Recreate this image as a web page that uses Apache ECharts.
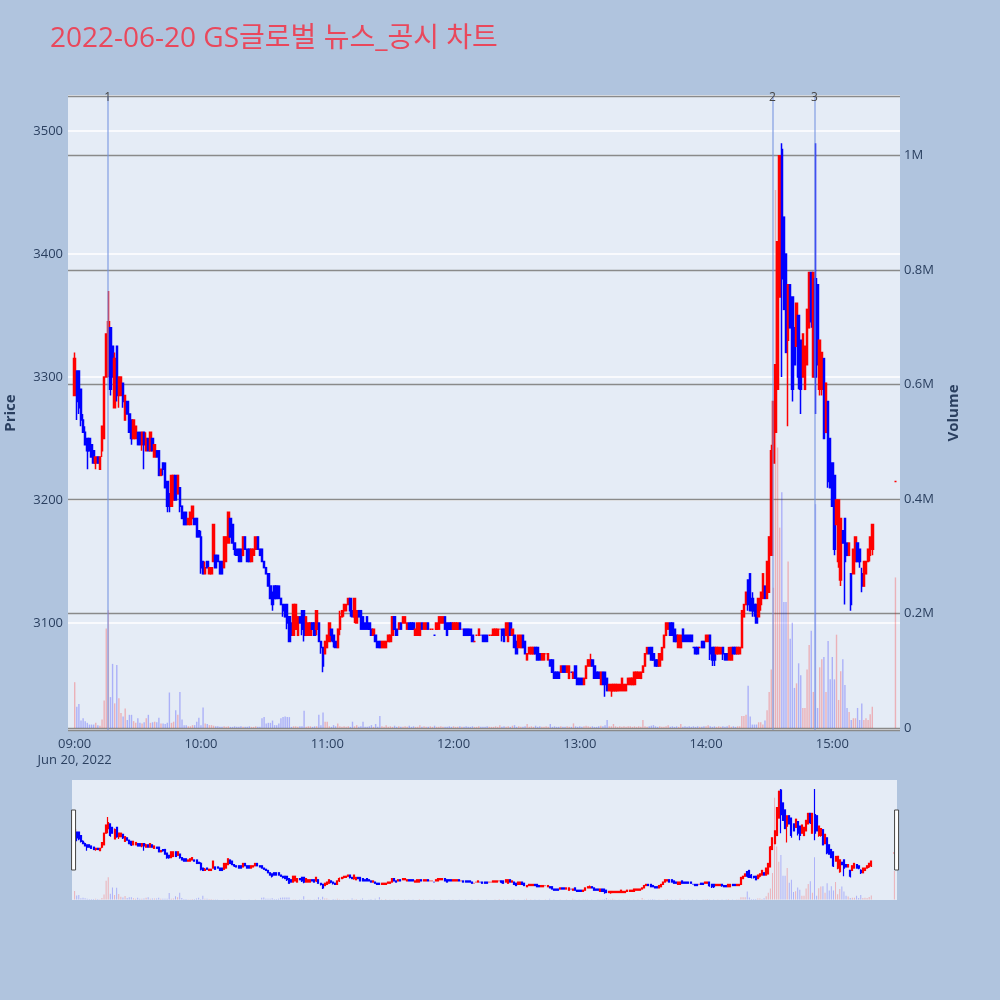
<!DOCTYPE html>
<html><head><meta charset="utf-8">
<script src="https://cdn.jsdelivr.net/npm/echarts/dist/echarts.min.js"></script>
<style>html,body{margin:0;padding:0;background:#b0c4de;}#chart{width:1000px;height:1000px;}</style>
</head><body><div id="chart"></div>
<script>
// ---------- data (open, close, low, high) per minute, by hour ----------
const sessionDay = [2022, 5, 20];
const c0900 = [
[3285,3315,3285,3320],[3305,3280,3265,3305],[3305,3275,3270,3305],[3290,3265,3260,3290],[3265,3255,3255,3270],
[3255,3245,3245,3260],[3250,3240,3225,3250],[3250,3240,3240,3250],[3245,3235,3235,3245],[3240,3230,3230,3240],
[3230,3235,3225,3235],[3235,3230,3230,3235],[3225,3235,3225,3235],[3240,3260,3235,3260],[3250,3300,3250,3300],
[3300,3335,3300,3335],[3320,3345,3300,3370],[3340,3290,3285,3340],[3325,3300,3300,3325],[3275,3315,3275,3320],
[3325,3285,3280,3325],[3285,3300,3275,3300],[3285,3300,3285,3300],[3295,3280,3275,3295],[3265,3285,3265,3285],
[3280,3270,3270,3280],[3270,3255,3255,3270],[3265,3250,3245,3265],[3250,3265,3250,3265],[3250,3260,3250,3260],
[3255,3245,3245,3255],[3255,3245,3245,3255],[3245,3255,3240,3255],[3255,3245,3225,3255],[3240,3250,3240,3255],
[3250,3240,3240,3250],[3240,3255,3240,3255],[3250,3240,3240,3250],[3235,3245,3235,3245],[3240,3235,3235,3240],
[3240,3220,3220,3240],[3220,3225,3220,3225],[3230,3225,3220,3230],[3230,3210,3210,3230],[3215,3195,3190,3215],
[3205,3195,3190,3205],[3195,3220,3195,3220],[3200,3220,3200,3220],[3220,3200,3200,3220],[3205,3220,3205,3220],
[3210,3195,3190,3210],[3195,3185,3185,3195],[3190,3180,3180,3190],[3190,3180,3180,3190],[3180,3185,3180,3185],
[3180,3190,3180,3190],[3185,3195,3185,3195],[3185,3180,3180,3185],[3185,3170,3170,3185],[3175,3170,3170,3175]
];
const c1000 = [
[3170,3145,3140,3175],[3150,3140,3140,3150],[3140,3145,3140,3150],[3150,3145,3145,3150],[3140,3145,3140,3145],
[3140,3145,3140,3145],[3150,3180,3150,3180],[3155,3145,3145,3155],[3155,3150,3150,3155],[3150,3140,3140,3150],
[3150,3140,3140,3150],[3145,3170,3145,3170],[3150,3170,3150,3170],[3165,3190,3165,3190],[3185,3170,3170,3185],
[3180,3165,3165,3180],[3165,3160,3155,3165],[3160,3155,3155,3160],[3160,3150,3150,3160],[3160,3150,3150,3160],
[3155,3170,3155,3170],[3170,3160,3160,3170],[3160,3150,3150,3160],[3160,3150,3150,3160],[3150,3160,3150,3160],
[3155,3160,3155,3160],[3160,3170,3160,3170],[3170,3160,3160,3170],[3160,3155,3155,3160],[3160,3150,3150,3160],
[3150,3145,3145,3150],[3145,3140,3140,3145],[3140,3130,3130,3140],[3130,3120,3120,3130],[3125,3115,3110,3125],
[3130,3120,3120,3130],[3130,3120,3120,3130],[3130,3120,3120,3130],[3120,3115,3115,3120],[3115,3110,3105,3115],
[3115,3105,3105,3115],[3115,3100,3095,3115],[3105,3085,3085,3105],[3100,3090,3090,3100],[3090,3115,3090,3115],
[3095,3115,3095,3115],[3090,3105,3090,3105],[3105,3100,3100,3105],[3110,3095,3090,3110],[3110,3090,3085,3110],
[3090,3105,3090,3105],[3090,3100,3090,3100],[3090,3100,3090,3100],[3100,3095,3095,3100],[3100,3090,3090,3100],
[3095,3110,3090,3110],[3100,3085,3085,3100],[3085,3080,3075,3085],[3080,3065,3060,3080],[3075,3085,3075,3085]
];
const c1100 = [
[3080,3090,3080,3090],[3085,3100,3085,3100],[3095,3090,3085,3095],[3090,3085,3080,3090],[3085,3080,3080,3085],
[3080,3095,3080,3095],[3095,3105,3090,3110],[3105,3110,3105,3110],[3110,3115,3105,3115],[3110,3115,3110,3115],
[3115,3120,3115,3120],[3120,3110,3105,3120],[3110,3105,3105,3110],[3105,3120,3100,3120],[3100,3110,3100,3110],
[3110,3105,3105,3110],[3110,3095,3095,3110],[3105,3095,3095,3105],[3100,3095,3095,3100],[3105,3095,3095,3105],
[3100,3095,3095,3100],[3095,3090,3090,3095],[3090,3095,3090,3095],[3090,3085,3085,3090],[3085,3080,3080,3085],
[3085,3080,3080,3085],[3080,3085,3080,3085],[3080,3085,3080,3085],[3080,3085,3080,3085],[3085,3090,3085,3090],
[3085,3090,3085,3090],[3090,3105,3090,3105],[3105,3095,3095,3105],[3095,3090,3090,3095],[3095,3100,3095,3100],
[3100,3095,3095,3100],[3100,3105,3100,3105],[3100,3105,3100,3105],[3095,3100,3095,3100],[3100,3095,3095,3100],
[3100,3095,3095,3100],[3100,3095,3095,3100],[3090,3095,3090,3095],[3090,3100,3090,3100],[3090,3100,3090,3100],
[3100,3095,3095,3100],[3095,3100,3095,3100],[3095,3100,3095,3100],[3100,3095,3095,3100],[3095,3095,3095,3095],
[3095,3095,3095,3095],[3090,3090,3090,3090],[3095,3100,3095,3100],[3095,3105,3095,3105],[3100,3105,3100,3105],
[3100,3105,3100,3105],[3105,3095,3095,3105],[3100,3090,3090,3100],[3100,3095,3095,3100],[3100,3095,3095,3100]
];
const c1200 = [
[3095,3100,3095,3100],[3095,3100,3095,3100],[3095,3100,3095,3100],[3100,3095,3095,3100],[3095,3095,3095,3095],
[3095,3090,3090,3095],[3095,3090,3090,3095],[3095,3090,3090,3095],[3095,3090,3090,3095],[3090,3085,3085,3090],
[3085,3085,3085,3085],[3090,3090,3090,3090],[3090,3095,3090,3095],[3090,3090,3090,3090],[3090,3085,3085,3090],
[3090,3085,3085,3090],[3090,3085,3085,3090],[3090,3090,3090,3090],[3090,3090,3090,3090],[3090,3095,3090,3095],
[3090,3095,3090,3095],[3090,3095,3090,3095],[3095,3095,3095,3095],[3095,3090,3085,3095],[3095,3085,3085,3095],
[3090,3100,3090,3100],[3085,3100,3085,3100],[3100,3090,3090,3100],[3090,3095,3090,3095],[3090,3080,3080,3090],
[3085,3075,3075,3085],[3080,3090,3080,3090],[3080,3090,3080,3090],[3090,3080,3080,3090],[3085,3075,3075,3085],
[3070,3075,3070,3075],[3075,3080,3075,3080],[3075,3080,3075,3080],[3075,3080,3075,3080],[3080,3075,3075,3080],
[3080,3070,3070,3080],[3075,3070,3070,3075],[3070,3075,3070,3075],[3070,3075,3070,3075],[3075,3075,3075,3075],
[3070,3075,3070,3075],[3070,3065,3065,3070],[3070,3060,3060,3070],[3060,3055,3055,3060],[3060,3055,3055,3060],
[3060,3055,3055,3060],[3060,3065,3060,3065],[3065,3060,3060,3065],[3065,3060,3060,3065],[3060,3065,3060,3065],
[3055,3065,3055,3065],[3060,3060,3060,3060],[3055,3060,3055,3060],[3065,3055,3055,3065],[3055,3050,3050,3055]
];
const c1300 = [
[3055,3050,3050,3055],[3055,3050,3050,3055],[3050,3055,3050,3055],[3055,3065,3055,3065],[3065,3070,3065,3070],
[3065,3070,3065,3075],[3070,3065,3065,3070],[3065,3055,3055,3065],[3060,3055,3055,3060],[3060,3055,3055,3060],
[3050,3060,3050,3060],[3060,3050,3050,3060],[3060,3050,3040,3060],[3055,3045,3045,3055],[3045,3050,3045,3050],
[3045,3050,3040,3050],[3045,3050,3045,3050],[3045,3050,3045,3050],[3045,3050,3045,3050],[3045,3050,3045,3050],
[3045,3055,3045,3055],[3045,3050,3045,3050],[3045,3050,3045,3050],[3050,3055,3050,3055],[3050,3055,3050,3055],
[3050,3055,3050,3055],[3050,3060,3050,3060],[3055,3060,3055,3060],[3055,3060,3055,3060],[3055,3060,3055,3060],
[3060,3065,3060,3065],[3065,3075,3065,3075],[3075,3080,3075,3080],[3080,3075,3075,3080],[3080,3070,3070,3080],
[3075,3070,3070,3075],[3070,3065,3065,3070],[3070,3065,3065,3070],[3065,3075,3065,3075],[3070,3080,3070,3080],
[3080,3090,3080,3090],[3090,3100,3090,3100],[3095,3100,3095,3100],[3100,3090,3090,3100],[3100,3090,3090,3100],
[3095,3085,3085,3095],[3090,3085,3085,3090],[3080,3090,3080,3090],[3080,3090,3080,3090],[3095,3085,3085,3095],
[3090,3085,3085,3090],[3090,3085,3085,3090],[3090,3085,3085,3090],[3090,3085,3085,3090],[3080,3080,3080,3080],
[3080,3075,3075,3080],[3080,3075,3075,3080],[3080,3080,3080,3080],[3085,3080,3080,3085],[3085,3080,3080,3085]
];
const c1400 = [
[3085,3090,3085,3090],[3085,3090,3085,3090],[3090,3075,3070,3090],[3080,3070,3065,3080],[3080,3070,3065,3080],
[3075,3080,3075,3080],[3075,3080,3075,3080],[3075,3080,3075,3080],[3080,3075,3070,3080],[3075,3070,3070,3075],
[3075,3070,3070,3075],[3070,3080,3070,3080],[3070,3080,3070,3080],[3080,3075,3075,3080],[3080,3075,3075,3080],
[3075,3080,3075,3080],[3075,3080,3075,3080],[3080,3110,3080,3110],[3105,3115,3105,3115],[3115,3125,3115,3125],
[3135,3115,3110,3135],[3140,3110,3110,3140],[3120,3110,3105,3125],[3115,3110,3105,3115],[3115,3100,3100,3115],
[3105,3120,3105,3120],[3115,3125,3110,3125],[3120,3140,3120,3140],[3130,3120,3120,3130],[3120,3150,3120,3150],
[3125,3170,3125,3170],[3155,3240,3155,3245],[3230,3280,3230,3280],[3255,3310,3255,3310],[3290,3410,3290,3410],
[3365,3480,3365,3480],[3485,3380,3300,3490],[3430,3355,3355,3430],[3400,3320,3320,3400],[3330,3375,3260,3375],
[3375,3340,3340,3375],[3365,3290,3280,3365],[3340,3310,3310,3340],[3325,3360,3325,3360],[3350,3300,3290,3350],
[3330,3290,3270,3330],[3300,3335,3300,3335],[3290,3325,3290,3325],[3310,3355,3310,3355],[3340,3385,3340,3385],
[3385,3345,3340,3385],[3300,3385,3300,3385],[3380,3300,3270,3490],[3375,3310,3310,3375],[3290,3330,3285,3330],
[3290,3320,3285,3320],[3315,3250,3250,3315],[3255,3295,3255,3295],[3280,3215,3210,3280],[3250,3210,3210,3250]
];
const c1500 = [
[3230,3195,3195,3230],[3220,3160,3155,3220],[3180,3200,3180,3200],[3150,3200,3145,3200],[3135,3185,3130,3185],
[3175,3165,3165,3175],[3185,3150,3115,3185],[3165,3155,3155,3165],[3155,3165,3155,3165],[3140,3115,3110,3140],
[3140,3160,3140,3160],[3150,3170,3150,3170],[3165,3150,3150,3165],[3160,3150,3145,3160],[3140,3130,3125,3145],
[3130,3150,3130,3150],[3140,3150,3140,3150],[3150,3160,3150,3160],[3155,3170,3150,3170],[3160,3180,3155,3180]
];
// volume per minute
const v0900 = [80000,37000,42000,13000,17000,12000,9000,6000,6000,6000, 9000,5000,4000,15000,48000,174000,206000,54000,112000,43000,
 110000,52000,26000,20000,34000,14000,23000,23000,12000,9000, 17000,9000,8000,10000,17000,23000,9000,10000,11000,10000,
 18000,8000,8000,7000,9000,62000,9000,11000,31000,23000, 63000,15000,5000,5000,3000,3000,5000,5000,11000,18000];
const v1000 = [5000,36000,8000,7000,5000,5000,4000,3000,3000,2000, 2000,3000,2000,3000,2000,2000,3000,2000,2000,3000,
 2000,2000,2000,3000,2000,2000,3000,2000,2000,17000, 19000,8000,9000,9000,13000,5000,5000,8000,17000,19000,
 20000,19000,19000,2000,3000,3000,2000,3000,3000,30000, 2000,3000,3000,2000,3000,3000,23000,5000,27000,11000];
const v1100 = [11000,3000,2000,5000,3000,8000,3000,2000,3000,2000, 3000,2000,11000,3000,5000,2000,3000,11000,2000,2000,
 3000,5000,2000,7000,2000,21000,3000,2000,5000,2000, 3000,2000,4000,2000,3000,2000,2000,3000,2000,4000,
 2000,3000,2000,2000,5000,2000,3000,2000,2000,3000, 2000,4000,2000,2000,3000,2000,2000,2000,3000,2000];
const v1200 = [3000,2000,2000,3000,2000,2000,3000,2000,2000,3000, 2000,2000,3000,2000,2000,2000,3000,2000,2000,2000,
 3000,2000,5000,2000,3000,2000,3000,2000,4000,5000, 2000,3000,2000,2000,3000,7000,2000,3000,2000,4000,
 2000,3000,2000,2000,3000,2000,7000,2000,3000,2000, 2000,3000,2000,2000,3000,2000,2000,8000,3000,2000];
const v1300 = [3000,2000,3000,4000,3000,2000,3000,2000,2000,3000, 4000,3000,5000,14000,3000,3000,7000,3000,2000,3000,
 2000,3000,2000,3000,3000,2000,3000,2000,3000,2000, 14000,3000,2000,3000,4000,5000,3000,2000,3000,2000,
 2000,3000,5000,2000,3000,2000,3000,2000,7000,2000, 3000,2000,3000,2000,3000,2000,3000,2000,2000,3000];
const v1400 = [3000,5000,3000,2000,3000,2000,3000,2000,3000,2000, 3000,5000,2000,3000,2000,3000,3000,21000,21000,23000,
 74000,20000,6000,6000,6000,10000,10000,6000,13000,31000, 63000,102000,245000,940000,490000,350000,412000,220000,220000,291000,
 156000,184000,70000,78000,113000,92000,35000,35000,102000,145000, 170000,63000,391000,35000,106000,120000,124000,63000,152000,85000];
const v1500 = [124000,85000,163000,49000,99000,120000,75000,35000,28000,14000, 17000,17000,35000,14000,43000,14000,17000,14000,24000,37000];
// closing auction
const auctionTime = '15:30';
const auctionOHLC = [3215,3215,3215,3215];
const auctionVolume = 263000;
// news markers
const newsTimes = ['09:15:40','14:31:35','14:51:30'];
const newsLabels = ['1','2','3'];
// axis ranges
const priceRange = [3013, 3528.5];
const volumeRange = [-3500, 1104000];
const mainTimeRange = ['08:57:09','15:31:50'];
const sliderTimeRange = ['08:59:00','15:31:00'];
const titleText = '2022-06-20 GS글로벌 뉴스_공시 차트';
const dateLabel = 'Jun 20, 2022';

// ---------- build ----------
function ts(hms){ const p = hms.split(':').map(Number); return new Date(sessionDay[0], sessionDay[1], sessionDay[2], p[0], p[1], p[2]||0).getTime(); }
const base = ts('09:00');
const ohlc = [].concat(c0900,c1000,c1100,c1200,c1300,c1400,c1500);
const vols = [].concat(v0900,v1000,v1100,v1200,v1300,v1400,v1500);
const times = ohlc.map((c,i)=>base + i*60000);
ohlc.push(auctionOHLC); vols.push(auctionVolume); times.push(ts(auctionTime));
const candleData = ohlc.map((c,i)=>[times[i], c[0], c[1], c[2], c[3]]);
const UP='#ff0000', DOWN='#0000ff';
const volData = vols.map((v,i)=>{
  const c = ohlc[i];
  let up = c[1] > c[0] ? true : c[1] < c[0] ? false : (i>0 ? ohlc[i-1][1] <= c[1] : true);
  return {value:[times[i], v], itemStyle:{color: up ? 'rgba(255,0,0,0.25)' : 'rgba(0,0,255,0.25)'}};
});
const FONT = "'Open Sans', 'Noto Sans CJK KR', sans-serif";
const TXT = '#2a3f5f';
function fmtTime(v){
  const d = new Date(v);
  if (d.getMinutes()!==0 || d.getSeconds()!==0) return '';
  let s = String(d.getHours()).padStart(2,'0') + ':00';
  if (d.getHours()===9) s += '\n' + dateLabel;
  return s;
}
const candleStyle = {color:UP, color0:DOWN, borderColor:UP, borderColor0:DOWN, borderWidth:1.5};

const chart = echarts.init(document.getElementById('chart'), null, {renderer:'canvas'});
chart.setOption({
  animation:false,
  backgroundColor:'#b0c4de',
  textStyle:{fontFamily:FONT},
  title:{text:titleText, left:45, top:20, textStyle:{color:'#e9485c', fontSize:28, fontWeight:'normal', fontFamily:FONT}},
  grid:[
    {left:68, right:100, top:96, height:634, show:true, backgroundColor:'#e5ecf6', borderWidth:0, outerBoundsMode:'none', containLabel:false},
    {left:72, right:103, top:780, height:120, show:true, backgroundColor:'#e5ecf6', borderWidth:0, outerBoundsMode:'none', containLabel:false}
  ],
  xAxis:[
    {type:'time', gridIndex:0, min:ts(mainTimeRange[0]), max:ts(mainTimeRange[1]),
     minInterval:3600000, maxInterval:3600000,
     axisLine:{show:false}, axisTick:{show:false}, splitLine:{show:false},
     axisLabel:{formatter:fmtTime, color:TXT, fontSize:13, margin:6, lineHeight:16, hideOverlap:false}},
    {type:'time', gridIndex:1, min:ts(sliderTimeRange[0]), max:ts(sliderTimeRange[1]), show:false}
  ],
  yAxis:[
    {type:'value', gridIndex:0, position:'left', min:priceRange[0], max:priceRange[1], splitNumber:5,
     axisLine:{show:false}, axisTick:{show:false},
     axisLabel:{color:TXT, fontSize:13, margin:5, showMinLabel:false, showMaxLabel:false, formatter:v=>String(v)},
     splitLine:{lineStyle:{color:'#ffffff', width:1.5}},
     name:'Price', nameLocation:'middle', nameGap:50, nameRotate:90,
     nameTextStyle:{color:TXT, fontSize:15, fontWeight:'bold'}},
    {type:'value', gridIndex:0, position:'right', min:volumeRange[0], max:volumeRange[1], splitNumber:5,
     axisLine:{show:false}, axisTick:{show:false},
     axisLabel:{color:TXT, fontSize:13, margin:4, showMinLabel:false, showMaxLabel:false,
       formatter:v=> v===0 ? '0' : (v/1e6)+'M'},
     splitLine:{lineStyle:{color:'#8a8a8a', width:1.3}},
     name:'Volume', nameLocation:'middle', nameGap:46, nameRotate:90,
     nameTextStyle:{color:TXT, fontSize:15, fontWeight:'bold'}},
    {type:'value', gridIndex:1, min:priceRange[0], max:priceRange[1], show:false, splitLine:{show:false}},
    {type:'value', gridIndex:1, min:volumeRange[0], max:volumeRange[1], show:false, splitLine:{show:false}}
  ],
  dataZoom:[{
    type:'slider', xAxisIndex:1, filterMode:'none', start:0, end:100, zoomLock:true,
    left:72, right:103, top:780, height:120,
    showDataShadow:false, showDetail:false, brushSelect:false, moveHandleSize:0,
    backgroundColor:'rgba(0,0,0,0)', fillerColor:'rgba(0,0,0,0)', borderColor:'rgba(0,0,0,0)',
    handleIcon:'path://M0,0H4V60H0Z', handleSize:'50%',
    handleStyle:{color:'#ffffff', borderColor:'#444444', borderWidth:1}
  }],
  series:[
    {type:'bar', name:'Volume', xAxisIndex:0, yAxisIndex:1, data:volData, barWidth:1.4, z:1, silent:true},
    {type:'candlestick', name:'Price', xAxisIndex:0, yAxisIndex:0, data:candleData, encode:{x:0, y:[1,2,3,4]},
     barWidth:2, itemStyle:candleStyle, z:3, silent:true,
     markLine:{silent:true, symbol:['none','none'], animation:false,
       lineStyle:{color:'rgba(120,150,225,0.6)', width:1.8, type:'solid'},
       label:{show:true, position:'end', formatter:'{b}', color:'#444', fontSize:12, distance:-8},
       data:newsTimes.map((t,i)=>({name:newsLabels[i], xAxis:ts(t)}))}},
    {type:'bar', xAxisIndex:1, yAxisIndex:3, data:volData, barWidth:1, z:1, silent:true},
    {type:'candlestick', xAxisIndex:1, yAxisIndex:2, data:candleData, encode:{x:0, y:[1,2,3,4]},
     barWidth:1.5, itemStyle:Object.assign({}, candleStyle, {borderWidth:1.2}), z:3, silent:true}
  ]
});
</script></body></html>
